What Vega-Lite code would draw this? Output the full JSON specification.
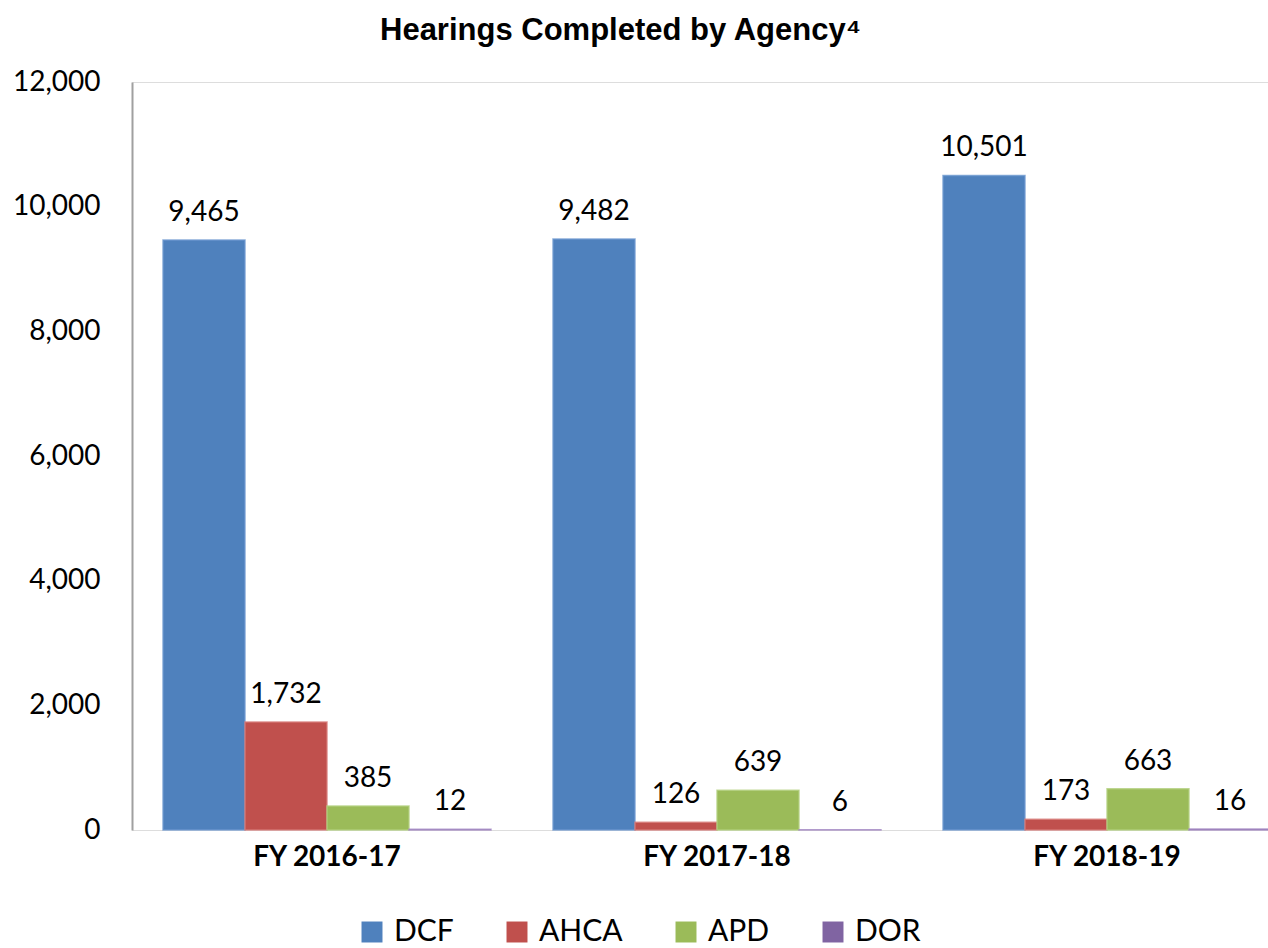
{
  "$schema": "https://vega.github.io/schema/vega-lite/v6.json",
  "autosize": {"type": "none"},
  "padding": {"left": 132, "top": 82, "right": 0, "bottom": 118},
  "width": 1136,
  "height": 748,
  "background": "white",
  "title": {
    "text": "Hearings Completed by Agency⁴",
    "font": "Liberation Sans",
    "fontSize": 31,
    "fontWeight": "bold",
    "color": "black",
    "anchor": "start",
    "frame": "group",
    "dx": 248,
    "offset": 21
  },
  "data": {
    "values": [
      {"year": "FY 2016-17", "agency": "DCF", "hearings": 9465},
      {"year": "FY 2016-17", "agency": "AHCA", "hearings": 1732},
      {"year": "FY 2016-17", "agency": "APD", "hearings": 385},
      {"year": "FY 2016-17", "agency": "DOR", "hearings": 12},
      {"year": "FY 2017-18", "agency": "DCF", "hearings": 9482},
      {"year": "FY 2017-18", "agency": "AHCA", "hearings": 126},
      {"year": "FY 2017-18", "agency": "APD", "hearings": 639},
      {"year": "FY 2017-18", "agency": "DOR", "hearings": 6},
      {"year": "FY 2018-19", "agency": "DCF", "hearings": 10501},
      {"year": "FY 2018-19", "agency": "AHCA", "hearings": 173},
      {"year": "FY 2018-19", "agency": "APD", "hearings": 663},
      {"year": "FY 2018-19", "agency": "DOR", "hearings": 16}
    ]
  },
  "encoding": {
    "x": {
      "field": "year", "type": "nominal", "sort": null,
      "scale": {"range": [0, 1170], "paddingInner": 0.159, "paddingOuter": 0.0795},
      "axis": {
        "title": null, "domain": false, "ticks": false, "labelAngle": 0,
        "labelFont": "Lato", "labelFontSize": 28, "labelFontWeight": "bold",
        "labelColor": "black", "labelPadding": 13
      }
    },
    "xOffset": {
      "field": "agency", "type": "nominal",
      "sort": ["DCF", "AHCA", "APD", "DOR"],
      "scale": {"paddingInner": 0, "paddingOuter": 0}
    },
    "y": {
      "field": "hearings", "type": "quantitative",
      "scale": {"domain": [0, 12000], "nice": false},
      "axis": {
        "title": null, "grid": false, "ticks": false,
        "values": [0, 2000, 4000, 6000, 8000, 10000, 12000],
        "format": ",d",
        "domain": true, "domainColor": "#A0A0A0", "domainWidth": 2,
        "labelFont": "Lato", "labelFontSize": 28, "labelColor": "black",
        "labelPadding": 32
      }
    }
  },
  "layer": [
    {
      "mark": {"type": "bar", "strokeWidth": 1.5, "strokeOpacity": 0.8},
      "encoding": {
        "color": {
          "field": "agency", "type": "nominal",
          "sort": ["DCF", "AHCA", "APD", "DOR"],
          "scale": {"domain": ["DCF", "AHCA", "APD", "DOR"], "range": ["#4F81BD", "#C0504D", "#9BBB59", "#8064A2"]},
          "legend": {
            "title": null, "orient": "none", "direction": "horizontal",
            "legendX": 225, "legendY": 835,
            "symbolType": "square", "symbolSize": 440, "symbolStrokeWidth": 0,
            "labelFont": "Lato", "labelFontSize": 30, "labelColor": "black",
            "labelOffset": 7, "columnPadding": 48, "labelLimit": 0
          }
        },
        "stroke": {
          "field": "agency", "type": "nominal",
          "scale": {"domain": ["DCF", "AHCA", "APD", "DOR"], "range": ["#6F9AD0", "#D77C79", "#B3CF80", "#A58BC4"]},
          "legend": null
        }
      }
    },
    {
      "mark": {"type": "text", "baseline": "middle", "dy": -27, "font": "Lato", "fontSize": 28, "color": "black"},
      "encoding": {
        "text": {"field": "hearings", "type": "quantitative", "format": ",d"}
      }
    }
  ]
}
